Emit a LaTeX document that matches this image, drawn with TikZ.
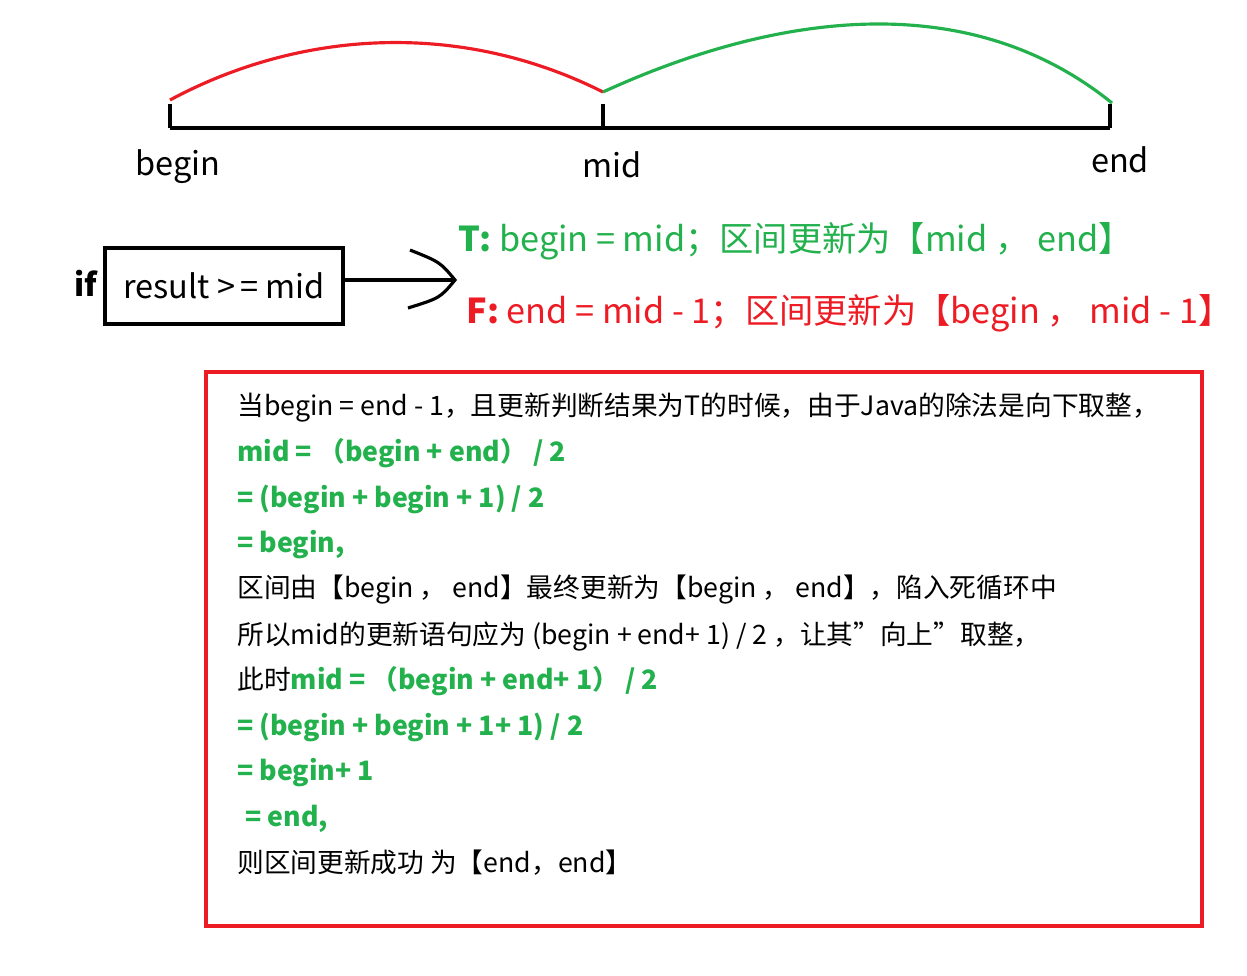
\documentclass[tikz,border=0pt]{standalone}
\usepackage{fontspec}
\setmainfont{Noto Sans CJK SC}
\usepackage{xcolor}
\usetikzlibrary{arrows.meta,positioning}
\definecolor{okgreen}{RGB}{34,177,76}
\definecolor{badred}{RGB}{237,28,36}
\tikzset{
  axisline/.style={line width=2.2pt},
  ticklab/.style={font=\fontsize{18.5}{20}\selectfont, inner sep=0pt},
  rowtext/.style={anchor=west, inner sep=0pt, font=\fontsize{15.2}{16}\selectfont},
  greenrow/.style={rowtext, text=okgreen, font=\fontsize{15.2}{16}\selectfont\bfseries},
}
\begin{document}
\begin{tikzpicture}[x=0.02cm,y=-0.02cm]
        \useasboundingbox (0,0) rectangle (1247,975);

        % Axis with ticks
        \coordinate (b) at (170,128);
        \coordinate (m) at (603,128);
        \coordinate (e) at (1110,128);
        \draw[axisline] (b) -- (e);
        \foreach \p in {b,m,e}
            \draw[axisline] (\p) -- ++(0,-24);
        \node[ticklab] (lbegin) at (178,167) {begin};
        \node[ticklab] (lmid) at (612,165) {mid};
        \node[ticklab] (lend) at (1120,160) {end};

        % Arcs over the two halves
        \draw[badred, line width=1.8pt] (170,100) .. controls (300,30) and (460,20) .. (603,92);
        \draw[okgreen, line width=1.8pt] (603,92) .. controls (760,20) and (960,-20) .. (1112,103);

        % Condition box and arrow
        \node[font=\fontsize{18}{20}\selectfont\bfseries] (iflab) at (86,283) {if};
        \node[draw, line width=2.2pt, font=\fontsize{18.5}{20}\selectfont, inner sep=0pt,
              minimum width=4.76cm, minimum height=1.52cm] (cond) at (224,286) {result >\,= mid};
        \coordinate (tip) at (455,280);
        \draw[line width=1.8pt] (cond.east |- tip) -- (tip);
        \draw[line width=1.8pt] (410,250) .. controls (440,262) .. (tip) .. controls (440,298) .. (408,308);

        % Outcomes
        \node[anchor=west, text=okgreen, font=\fontsize{19.5}{20}\selectfont, inner sep=0pt] (ttrue) at (458,241)
            {\textbf{T:} begin = mid；区间更新为【mid ，  end】};
        \node[anchor=west, text=badred, font=\fontsize{19.5}{20}\selectfont, inner sep=0pt] (tfalse) at (466,313)
            {\textbf{F:} end = mid - 1；区间更新为【begin ，  mid - 1】};

        % Explanation box
        \draw[badred, line width=2.2pt] (206,372) rectangle (1202,926);
        \node[rowtext] (r1) at (237,408) {当begin = end - 1，且更新判断结果为T的时候，由于Java的除法是向下取整，};
        \node[greenrow] (r2) at (237,453) {mid =  （begin + end）  / 2};
        \node[greenrow] (r3) at (237,499) {= (begin + begin + 1) / 2};
        \node[greenrow] (r4) at (237,545) {= begin,};
        \node[rowtext] (r5) at (237,590) {区间由【begin ，  end】最终更新为【begin ，  end】，陷入死循环中};
        \node[rowtext] (r6) at (237,636) {所以mid的更新语句应为 (begin + end+ 1) / 2 ，让其\char34 向上\char34 取整，};
        \node[rowtext] (r7) at (237,681) {此时\textcolor{okgreen}{\bfseries mid =  （begin + end+ 1）  / 2}};
        \node[greenrow] (r8) at (237,727) {= (begin + begin + 1+ 1) / 2};
        \node[greenrow] (r9) at (237,773) {= begin+ 1};
        \node[greenrow] (r10) at (245,819) {= end,};
        \node[rowtext] (r11) at (237,863) {则区间更新成功 为【end，end】};
    \end{tikzpicture}
\end{document}
